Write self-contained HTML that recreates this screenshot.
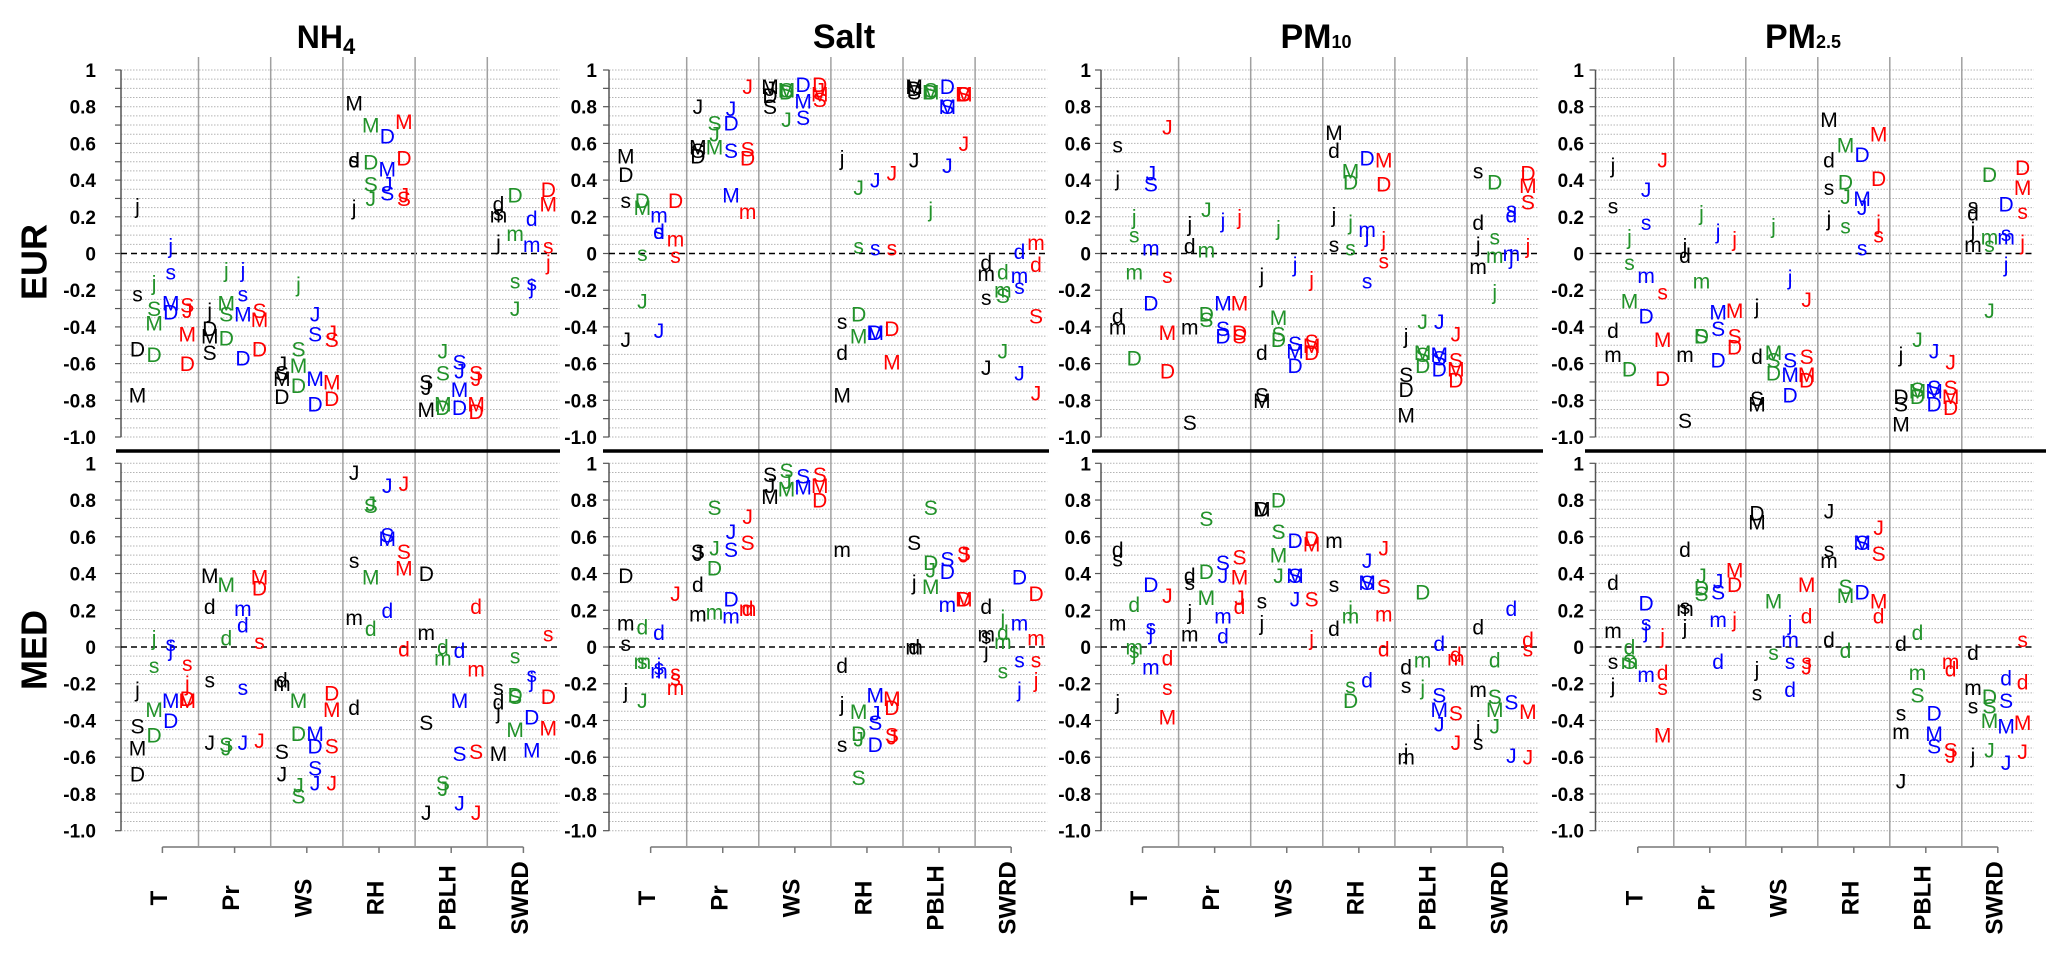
<!DOCTYPE html>
<html><head><meta charset="utf-8">
<style>
html,body{margin:0;padding:0;background:#fff;}
svg{display:block;font-family:"Liberation Sans",Arial,sans-serif;}
</style></head>
<body>
<svg id="chart" width="2067" height="964" viewBox="0 0 2067 964" xmlns="http://www.w3.org/2000/svg">
  <g id="bg"><rect width="2067" height="964" fill="#fff"/></g>
  <text x="34" y="262" transform="rotate(-90 34 262)" text-anchor="middle" dominant-baseline="central" font-size="36" font-weight="bold">EUR</text>
  <text x="34" y="650" transform="rotate(-90 34 650)" text-anchor="middle" dominant-baseline="central" font-size="36" font-weight="bold">MED</text>
  <text x="326" y="48" text-anchor="middle" font-size="32" font-weight="bold">NH<tspan font-size="22" dy="6">4</tspan></text>
  <text x="844" y="48" text-anchor="middle" font-size="34" font-weight="bold">Salt</text>
  <text x="1316" y="48" text-anchor="middle" font-size="34" font-weight="bold">PM<tspan font-size="18">10</tspan></text>
  <text x="1803" y="48" text-anchor="middle" font-size="34" font-weight="bold">PM<tspan font-size="18">2.5</tspan></text>
</svg>
<script>
const variables = ["T","Pr","WS","RH","PBLH","SWRD"];
const yTickLabels = ["1","0.8","0.6","0.4","0.2","0","-0.2","-0.4","-0.6","-0.8","-1.0"];
const yTickValues = [1,0.8,0.6,0.4,0.2,0,-0.2,-0.4,-0.6,-0.8,-1.0];
const seriesColors = ["#000000","#22922a","#0000ff","#ff0000"];

// NH4
const nh4Eur = [
 [[["j",.26],["s",-.22],["D",-.52],["M",-.77]],[["j",-.16],["S",-.30],["M",-.38],["D",-.55]],[["j",.04],["s",-.10],["M",-.27],["D",-.32]],[["S",-.28],["J",-.31],["M",-.44],["D",-.60]]],
 [[["j",-.31],["D",-.41],["M",-.45],["S",-.54]],[["j",-.09],["M",-.27],["S",-.33],["D",-.46]],[["j",-.09],["s",-.22],["M",-.33],["D",-.57]],[["S",-.31],["M",-.36],["D",-.52]]],
 [[["J",-.60],["S",-.65],["M",-.68],["D",-.78]],[["j",-.17],["S",-.52],["M",-.61],["D",-.72]],[["J",-.33],["S",-.44],["M",-.68],["D",-.82]],[["J",-.43],["S",-.47],["M",-.70],["D",-.79]]],
 [[["M",.82],["d",.51],["s",.51],["j",.25]],[["M",.70],["D",.50],["S",.38],["J",.30]],[["D",.64],["M",.46],["J",.38],["S",.33]],[["M",.72],["D",.52],["J",.32],["S",.30]]],
 [[["S",-.70],["J",-.73],["M",-.85]],[["J",-.53],["S",-.65],["M",-.82],["D",-.84]],[["S",-.59],["J",-.64],["M",-.74],["D",-.84]],[["S",-.65],["J",-.68],["M",-.82],["D",-.86]]],
 [[["d",.27],["s",.22],["m",.21],["j",.06]],[["D",.32],["m",.11],["s",-.15],["J",-.30]],[["d",.19],["m",.05],["s",-.16],["j",-.18]],[["D",.35],["M",.27],["s",.04],["j",-.05]]]
];
const nh4Med = [
 [[["j",-.23],["S",-.43],["M",-.55],["D",-.69]],[["j",.05],["s",-.10],["M",-.34],["D",-.48]],[["s",.02],["j",-.01],["M",-.29],["D",-.40]],[["s",-.09],["j",-.20],["D",-.28],["M",-.29]]],
 [[["M",.39],["d",.22],["s",-.18],["J",-.52]],[["M",.34],["d",.05],["S",-.53],["J",-.55]],[["m",.21],["d",.12],["s",-.22],["J",-.52]],[["M",.38],["D",.32],["s",.03],["J",-.51]]],
 [[["d",-.18],["m",-.20],["S",-.57],["J",-.69]],[["M",-.29],["D",-.47],["J",-.75],["S",-.81]],[["M",-.47],["D",-.54],["S",-.66],["J",-.74]],[["D",-.25],["M",-.34],["S",-.54],["J",-.74]]],
 [[["J",.95],["s",.47],["m",.16],["d",-.33]],[["S",.77],["J",.78],["M",.38],["d",.10]],[["J",.88],["S",.61],["M",.59],["d",.20]],[["J",.89],["S",.52],["M",.43],["d",-.01]]],
 [[["D",.40],["m",.08],["S",-.41],["J",-.90]],[["d",.00],["m",-.06],["S",-.74],["J",-.77]],[["d",-.02],["M",-.29],["S",-.58],["J",-.85]],[["d",.22],["m",-.12],["S",-.57],["J",-.90]]],
 [[["s",-.22],["d",-.30],["j",-.35],["M",-.58]],[["s",-.05],["D",-.26],["S",-.27],["M",-.45]],[["s",-.15],["j",-.18],["D",-.38],["M",-.56]],[["s",.07],["D",-.27],["M",-.44]]]
];
// Salt
const saltEur = [
 [[["M",.53],["D",.43],["s",.29],["J",-.47]],[["D",.29],["M",.25],["s",.00],["J",-.26]],[["m",.21],["s",.12],["d",.12],["J",-.42]],[["D",.29],["m",.08],["s",-.01]]],
 [[["J",.80],["M",.58],["S",.56],["D",.53]],[["S",.71],["J",.65],["M",.58]],[["J",.79],["D",.71],["S",.56],["M",.32]],[["J",.91],["S",.57],["D",.52],["m",.23]]],
 [[["M",.91],["J",.90],["D",.86],["S",.80]],[["S",.89],["M",.89],["D",.88],["J",.73]],[["D",.92],["M",.83],["S",.74]],[["D",.92],["J",.89],["M",.87],["S",.84]]],
 [[["j",.52],["s",-.37],["d",-.54],["M",-.77]],[["J",.36],["s",.04],["D",-.33],["M",-.45]],[["J",.40],["s",.03],["M",-.43],["D",-.43]],[["J",.44],["s",.03],["D",-.41],["M",-.59]]],
 [[["M",.91],["D",.90],["S",.88],["J",.51]],[["S",.89],["D",.88],["M",.88],["j",.24]],[["D",.91],["M",.80],["S",.80],["J",.48]],[["D",.87],["M",.87],["S",.87],["J",.60]]],
 [[["d",-.05],["m",-.11],["s",-.24],["J",-.62]],[["d",-.10],["m",-.20],["S",-.23],["J",-.53]],[["d",.01],["m",-.12],["s",-.18],["J",-.65]],[["m",.06],["d",-.06],["S",-.34],["J",-.76]]]
];
const saltMed = [
 [[["D",.39],["m",.13],["s",.02],["j",-.24]],[["d",.11],["m",-.08],["s",-.08],["J",-.29]],[["d",.08],["j",-.10],["s",-.11],["m",-.13]],[["J",.29],["s",-.14],["s",-.17],["m",-.22]]],
 [[["S",.52],["J",.51],["d",.34],["m",.18]],[["S",.76],["J",.54],["D",.43],["m",.19]],[["J",.63],["S",.53],["D",.26],["m",.17]],[["J",.71],["S",.57],["m",.21],["d",.21]]],
 [[["S",.94],["J",.88],["M",.82]],[["S",.96],["J",.90],["M",.86]],[["S",.93],["M",.87]],[["S",.94],["M",.88],["D",.80]]],
 [[["m",.53],["d",-.10],["j",-.31],["s",-.53]],[["M",-.35],["D",-.47],["J",-.50],["S",-.71]],[["M",-.26],["J",-.36],["S",-.41],["D",-.53]],[["M",-.28],["D",-.33],["S",-.48],["J",-.49]]],
 [[["S",.57],["j",.35],["m",.00],["d",.00]],[["S",.76],["D",.46],["J",.42],["M",.33]],[["S",.48],["D",.41],["m",.23]],[["S",.51],["J",.50],["M",.26],["D",.26]]],
 [[["d",.22],["m",.07],["s",.06],["j",-.02]],[["j",.16],["d",.08],["m",.03],["s",-.13]],[["D",.38],["m",.13],["s",-.07],["j",-.23]],[["D",.29],["m",.05],["s",-.07],["j",-.18]]]
];
// PM10
const pm10Eur = [
 [[["s",.59],["j",.41],["d",-.34],["m",-.40]],[["j",.20],["s",.10],["m",-.10],["D",-.57]],[["J",.44],["S",.38],["m",.03],["D",-.27]],[["J",.69],["s",-.12],["M",-.43],["D",-.64]]],
 [[["j",.16],["d",.04],["m",-.40],["S",-.92]],[["J",.24],["m",.02],["D",-.33],["S",-.36]],[["j",.18],["M",-.27],["S",-.41],["D",-.45]],[["j",.20],["M",-.27],["D",-.43],["S",-.45]]],
 [[["j",-.12],["d",-.54],["S",-.77],["M",-.80]],[["j",.14],["M",-.35],["S",-.44],["D",-.47]],[["j",-.06],["S",-.49],["M",-.53],["D",-.61]],[["j",-.14],["S",-.48],["M",-.50],["D",-.54]]],
 [[["M",.66],["d",.56],["j",.21],["s",.05]],[["M",.45],["D",.39],["j",.17],["s",.03]],[["D",.52],["m",.13],["j",.10],["s",-.15]],[["M",.51],["D",.38],["j",.08],["s",-.04]]],
 [[["j",-.45],["S",-.66],["D",-.74],["M",-.88]],[["J",-.37],["M",-.54],["S",-.55],["D",-.61]],[["J",-.37],["M",-.55],["S",-.57],["D",-.63]],[["J",-.44],["S",-.58],["M",-.63],["D",-.69]]],
 [[["s",.45],["d",.17],["j",.05],["m",-.07]],[["D",.39],["s",.09],["m",-.01],["j",-.21]],[["s",.24],["d",.21],["m",.00],["j",-.02]],[["D",.44],["M",.37],["S",.28],["j",.04]]]
];
const pm10Med = [
 [[["d",.53],["s",.48],["m",.13],["j",-.30]],[["d",.23],["m",.00],["s",-.02],["j",-.03]],[["D",.34],["s",.11],["j",.08],["m",-.11]],[["J",.28],["d",-.06],["s",-.22],["M",-.38]]],
 [[["d",.39],["s",.35],["j",.19],["m",.07]],[["S",.70],["D",.41],["M",.27]],[["S",.46],["J",.39],["m",.17],["d",.06]],[["S",.49],["M",.38],["J",.27],["d",.22]]],
 [[["M",.75],["D",.75],["s",.25],["j",.13]],[["D",.80],["S",.63],["M",.50],["J",.39]],[["D",.58],["M",.39],["S",.39],["J",.26]],[["D",.59],["M",.56],["S",.26],["j",.05]]],
 [[["m",.58],["s",.34],["d",.10]],[["j",.21],["m",.17],["s",-.21],["D",-.29]],[["J",.47],["M",.35],["S",.35],["d",-.18]],[["J",.54],["S",.33],["m",.18],["d",-.01]]],
 [[["d",-.11],["s",-.21],["j",-.57],["m",-.60]],[["D",.30],["m",-.07],["j",-.22]],[["d",.02],["S",-.26],["M",-.34],["J",-.42]],[["d",-.04],["m",-.06],["S",-.36],["J",-.52]]],
 [[["d",.11],["m",-.23],["j",-.44],["s",-.52]],[["d",-.07],["S",-.27],["M",-.34],["J",-.43]],[["d",.21],["S",-.30],["J",-.59]],[["d",.04],["s",-.01],["M",-.35],["J",-.60]]]
];
// PM2.5
const pm25Eur = [
 [[["j",.48],["s",.26],["d",-.42],["m",-.55]],[["j",.09],["s",-.05],["M",-.26],["D",-.63]],[["J",.35],["s",.17],["m",-.12],["D",-.34]],[["J",.51],["s",-.21],["M",-.47],["D",-.68]]],
 [[["j",.04],["d",-.01],["m",-.55],["S",-.91]],[["j",.22],["m",-.15],["S",-.45],["D",-.45]],[["j",.12],["M",-.32],["S",-.41],["D",-.58]],[["j",.08],["M",-.31],["S",-.45],["D",-.51]]],
 [[["j",-.29],["d",-.56],["S",-.79],["M",-.82]],[["j",.15],["M",-.54],["S",-.58],["D",-.65]],[["j",-.13],["S",-.58],["M",-.66],["D",-.77]],[["J",-.25],["S",-.56],["M",-.66],["D",-.69]]],
 [[["M",.73],["d",.51],["s",.36],["j",.19]],[["M",.59],["D",.39],["J",.31],["s",.15]],[["D",.54],["M",.30],["J",.25],["s",.03]],[["M",.65],["D",.41],["j",.17],["s",.10]]],
 [[["j",-.55],["D",-.78],["S",-.82],["M",-.93]],[["J",-.47],["S",-.74],["M",-.75],["D",-.78]],[["J",-.53],["S",-.73],["M",-.75],["D",-.82]],[["J",-.59],["S",-.73],["M",-.78],["D",-.84]]],
 [[["s",.26],["d",.22],["j",.13],["m",.05]],[["D",.43],["m",.09],["s",.05],["J",-.31]],[["D",.27],["s",.11],["m",.09],["j",-.06]],[["D",.47],["M",.36],["s",.23],["j",.06]]]
];
const pm25Med = [
 [[["d",.35],["m",.09],["s",-.08],["j",-.21]],[["d",.00],["S",-.08],["m",-.08]],[["D",.24],["s",.13],["j",.09],["m",-.15]],[["j",.06],["d",-.14],["s",-.22],["M",-.48]]],
 [[["d",.53],["s",.22],["m",.21],["j",.11]],[["J",.39],["D",.32],["S",.29]],[["J",.36],["S",.30],["m",.15],["d",-.08]],[["M",.42],["D",.34],["j",.15]]],
 [[["D",.73],["M",.68],["j",-.12],["s",-.25]],[["M",.25],["s",-.03]],[["j",.13],["m",.04],["s",-.08],["d",-.23]],[["M",.34],["d",.17],["s",-.08],["J",-.11]]],
 [[["J",.74],["s",.53],["m",.47],["d",.04]],[["S",.33],["M",.28],["d",-.02]],[["S",.57],["M",.57],["D",.30]],[["J",.65],["S",.51],["M",.25],["d",.17]]],
 [[["d",.02],["s",-.36],["m",-.46],["J",-.73]],[["d",.08],["m",-.14],["S",-.26]],[["D",-.36],["M",-.47],["S",-.54]],[["m",-.08],["d",-.12],["S",-.56],["J",-.59]]],
 [[["d",-.03],["m",-.22],["s",-.32],["j",-.59]],[["D",-.27],["S",-.32],["M",-.40],["J",-.56]],[["d",-.17],["S",-.29],["M",-.43],["J",-.63]],[["s",.04],["d",-.19],["M",-.41],["J",-.57]]]
];

const NS = "http://www.w3.org/2000/svg";
const svg = document.getElementById("chart");
function mk(tag, attrs, parent){const e=document.createElementNS(NS,tag);for(const k in attrs)e.setAttribute(k,attrs[k]);(parent||svg).appendChild(e);return e;}

const panels = [
 {key:"nh4", eur:nh4Eur, med:nh4Med, axisX:121, g0:126.3, gw:72.2, labelX:96, lineX0:116, lineX1:560},
 {key:"salt", eur:saltEur, med:saltMed, axisX:609, g0:614.6, gw:72.1, labelX:597, lineX0:603, lineX1:1049},
 {key:"pm10", eur:pm10Eur, med:pm10Med, axisX:1101, g0:1106.5, gw:72.1, labelX:1091, lineX0:1092, lineX1:1543},
 {key:"pm25", eur:pm25Eur, med:pm25Med, axisX:1595.5, g0:1601.8, gw:72.0, labelX:1584, lineX0:1585, lineX1:2046}
];
const rows = [{name:"eur", top:70, bottom:437},{name:"med", top:463.3, bottom:830.7}];
const colorFrac = [0.155,0.385,0.615,0.845];

panels.forEach(p=>{
  const pg = mk("g",{});
  
  
  const right = p.g0 + p.gw*6;
  rows.forEach(r=>{
    const yS = v => r.top + (1-v)/2*(r.bottom-r.top);
    const rg = mk("g",{},pg);
    
    
    // gridlines every 0.05
    for(let i=0;i<=40;i++){
      const v = 1 - i*0.05;
      if(Math.abs(v)<1e-6) continue;
      const gl = mk("line",{x1:p.axisX,x2:right,y1:yS(v),y2:yS(v),stroke:"#b4b4b4","stroke-width":1,"stroke-dasharray":"1.5,1.5"},rg);
      
      
    }
    // axis
    const ax = mk("line",{x1:p.axisX,x2:p.axisX,y1:yS(1),y2:yS(-1),stroke:"#555","stroke-width":1.5},rg);
    
    
    for(let i=0;i<=20;i++){
      const v=1-i*0.1;
      const tk = mk("line",{x1:p.axisX-6,x2:p.axisX,y1:yS(v),y2:yS(v),stroke:"#555","stroke-width":1.2},rg);
      
      
    }
    yTickValues.forEach((v,i)=>{
      const t = mk("text",{x:p.labelX,y:yS(v)+7,"text-anchor":"end","font-size":19,"font-weight":"bold"},rg);
      t.textContent = yTickLabels[i];
      
      
    });
    const zl = mk("line",{x1:p.axisX,x2:right,y1:yS(0),y2:yS(0),stroke:"#000","stroke-width":1.5,"stroke-dasharray":"6,4"},rg);
    
    
  });
  // separators
  for(let i=1;i<6;i++){
    const x = p.g0 + p.gw*i;
    const s = mk("line",{x1:x,x2:x,y1:57,y2:846,stroke:"#a0a0a0","stroke-width":1.5},pg);
    
    
  }
  const hl = mk("line",{x1:p.lineX0,x2:p.lineX1,y1:451,y2:451,stroke:"#000","stroke-width":3.5},pg);
  
  
  // x axis
  const c0 = p.g0 + p.gw*0.5, c5 = p.g0 + p.gw*5.5;
  const xa = mk("line",{x1:c0,x2:c5,y1:847,y2:847,stroke:"#777","stroke-width":1.5},pg);
  
  
  variables.forEach((vn,i)=>{
    const cx = p.g0 + p.gw*(i+0.5);
    const tk = mk("line",{x1:cx,x2:cx,y1:847,y2:853,stroke:"#777","stroke-width":1.5},pg);
    
    
    const lx = cx-3, ly = 898;
    const t = mk("text",{x:lx,y:ly,transform:`rotate(-90 ${lx} ${ly})`,"text-anchor":"middle","dominant-baseline":"central","font-size":24,"font-weight":"bold"},pg);
    t.textContent = vn;
    
    
  });
  // points
  rows.forEach(r=>{
    const yS = v => r.top + (1-v)/2*(r.bottom-r.top);
    const data = p[r.name];
    data.forEach((grp,gi)=>{
      grp.forEach((series,ci)=>{
        const x = p.g0 + p.gw*(gi + colorFrac[ci]);
        series.forEach(pt=>{
          const t = mk("text",{x:x,y:yS(pt[1])+7.5,"text-anchor":"middle","font-size":21,fill:seriesColors[ci]},pg);
          t.textContent = pt[0];
          
          
        });
      });
    });
  });
});
</script>
</body></html>
